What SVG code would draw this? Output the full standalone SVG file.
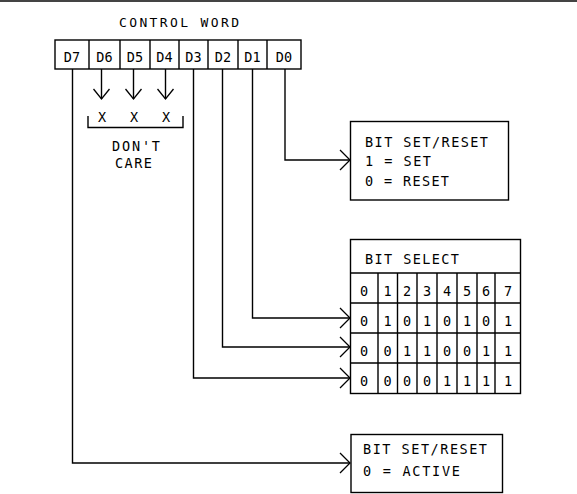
<svg xmlns="http://www.w3.org/2000/svg" width="577" height="494" viewBox="0 0 577 494">
<style>
.ln{stroke:#000;stroke-width:1.4;fill:none}
.bx{stroke:#000;stroke-width:1.4;fill:#fff}
text{font-family:"DejaVu Sans Mono","Liberation Mono",monospace;font-size:13.5px;fill:#000}
.c{text-anchor:middle}
</style>
<defs>
<marker id="ah" markerWidth="14" markerHeight="24" refX="11" refY="11" orient="auto" markerUnits="userSpaceOnUse">
<path d="M1,1 L11,11 L1,21" fill="none" stroke="#000" stroke-width="1.3"/>
</marker>
<marker id="dh" markerWidth="20" markerHeight="14" refX="9" refY="11" orient="0" markerUnits="userSpaceOnUse">
<path d="M1,1 L9,11 L17,1" fill="none" stroke="#000" stroke-width="1.3"/>
</marker>
</defs>
<rect width="577" height="494" fill="#fff"/>
<line x1="0" y1="1" x2="577" y2="1" stroke="#444" stroke-width="2.2"/>

<g id="control-word">
<text x="119" y="27" textLength="120" lengthAdjust="spacing" style="font-size:13px">CONTROL WORD</text>
<rect class="bx" x="55" y="40" width="246" height="29"/>
<path class="ln" d="M89,40V69M120,40V69M150,40V69M179,40V69M208,40V69M238,40V69M267,40V69"/>
<text class="c" x="72" y="61.5">D7</text>
<text class="c" x="104.5" y="61.5">D6</text>
<text class="c" x="135" y="61.5">D5</text>
<text class="c" x="164.5" y="61.5">D4</text>
<text class="c" x="193.5" y="61.5">D3</text>
<text class="c" x="223" y="61.5">D2</text>
<text class="c" x="252.5" y="61.5">D1</text>
<text class="c" x="284" y="61.5">D0</text>
</g>

<g id="dont-care">
<text class="c" x="102" y="121.5">X</text>
<text class="c" x="134" y="121.5">X</text>
<text class="c" x="166" y="121.5">X</text>
<path class="ln" d="M88,116V127.5H183V116"/>
<text x="112" y="150.5" textLength="48" lengthAdjust="spacing">DON'T</text>
<text x="115" y="168" textLength="37" lengthAdjust="spacing">CARE</text>
</g>

<g id="box-set-reset">
<rect class="bx" x="350.5" y="121.5" width="158" height="78.5"/>
<text x="365" y="146.5" textLength="123" lengthAdjust="spacing">BIT SET/RESET</text>
<text x="365" y="166" textLength="66" lengthAdjust="spacing">1 = SET</text>
<text x="365" y="186" textLength="84" lengthAdjust="spacing">0 = RESET</text>
</g>

<g id="table-bit-select">
<rect class="bx" x="350.5" y="239.5" width="170" height="154"/>
<path class="ln" d="M350.5,273H520.5M350.5,303H520.5M350.5,333H520.5M350.5,363H520.5M378,273V393.5M397.5,273V393.5M417,273V393.5M437,273V393.5M457,273V393.5M477,273V393.5M495,273V393.5"/>
<text x="365" y="264" textLength="94" lengthAdjust="spacing">BIT SELECT</text>
<g>
<text class="c" x="364" y="295.5">0</text><text class="c" x="387.5" y="295.5">1</text><text class="c" x="407" y="295.5">2</text><text class="c" x="427" y="295.5">3</text><text class="c" x="447" y="295.5">4</text><text class="c" x="467" y="295.5">5</text><text class="c" x="486" y="295.5">6</text><text class="c" x="508" y="295.5">7</text>
<text class="c" x="364" y="325.5">0</text><text class="c" x="387.5" y="325.5">1</text><text class="c" x="407" y="325.5">0</text><text class="c" x="427" y="325.5">1</text><text class="c" x="447" y="325.5">0</text><text class="c" x="467" y="325.5">1</text><text class="c" x="486" y="325.5">0</text><text class="c" x="508" y="325.5">1</text>
<text class="c" x="364" y="355.5">0</text><text class="c" x="387.5" y="355.5">0</text><text class="c" x="407" y="355.5">1</text><text class="c" x="427" y="355.5">1</text><text class="c" x="447" y="355.5">0</text><text class="c" x="467" y="355.5">0</text><text class="c" x="486" y="355.5">1</text><text class="c" x="508" y="355.5">1</text>
<text class="c" x="364" y="385.5">0</text><text class="c" x="387.5" y="385.5">0</text><text class="c" x="407" y="385.5">0</text><text class="c" x="427" y="385.5">0</text><text class="c" x="447" y="385.5">1</text><text class="c" x="467" y="385.5">1</text><text class="c" x="486" y="385.5">1</text><text class="c" x="508" y="385.5">1</text>
</g>
</g>

<g id="box-active">
<rect class="bx" x="351" y="434.5" width="151.5" height="58"/>
<text x="363" y="454" textLength="124" lengthAdjust="spacing">BIT SET/RESET</text>
<text x="363" y="475.5" textLength="97" lengthAdjust="spacing">0 = ACTIVE</text>
</g>

<g id="connectors">
<path class="ln" d="M101.5,69V99" marker-end="url(#dh)"/>
<path class="ln" d="M133.5,69V99" marker-end="url(#dh)"/>
<path class="ln" d="M165.5,69V99" marker-end="url(#dh)"/>
<path class="ln" d="M285,69V160H350" marker-end="url(#ah)"/>
<path class="ln" d="M252.5,69V318H350" marker-end="url(#ah)"/>
<path class="ln" d="M222.5,69V347H350" marker-end="url(#ah)"/>
<path class="ln" d="M193.5,69V378H350" marker-end="url(#ah)"/>
<path class="ln" d="M72.5,69V463H350" marker-end="url(#ah)"/>
</g>
</svg>
